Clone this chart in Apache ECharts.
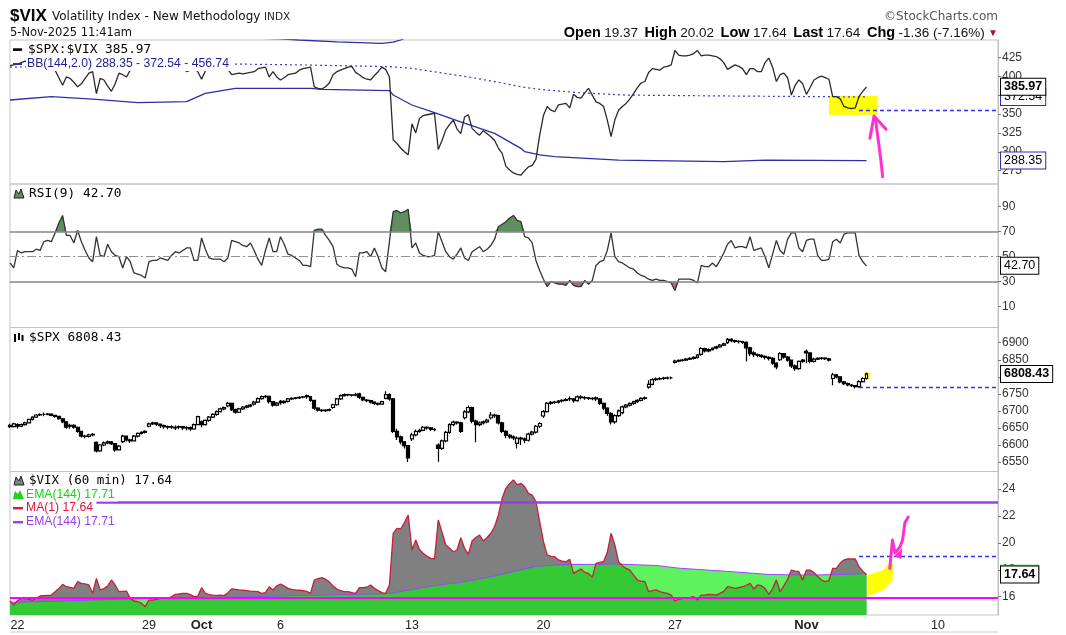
<!DOCTYPE html>
<html><head><meta charset="utf-8">
<script src="https://cdn.jsdelivr.net/npm/echarts@6/dist/echarts.min.js"></script>
<style>html,body{margin:0;padding:0;background:#fff}#c{width:1066px;height:635px}</style>
</head><body><div id="c"></div>
<script>
// ---------------- DATA ----------------
const days = ['9/19','9/22','9/23','9/24','9/25','9/26','9/29','9/30','10/1','10/2','10/3','10/6','10/7','10/8','10/9','10/10',
  '10/13','10/14','10/15','10/16','10/17','10/20','10/21','10/22','10/23','10/24','10/27','10/28','10/29','10/30','10/31',
  '11/3','11/4','11/5','11/6','11/7','11/10','11/11','11/12'];
const hours = ['09:30','10:30','11:30','12:30','13:30','14:30','15:30'];
const weekLabels = {'9/22':'22','9/29':'29','10/1':'Oct','10/6':'6','10/13':'13','10/20':'20','10/27':'27','11/3':'Nov','11/10':'10'};

// $SPX:$VIX ratio, one value per 60-min bar (first two = 9/19 afternoon)
const ratio = [414,415,
 416,418,420,419,421,420,418, 416,414,412,408,398,388,399, 397,392,386,390,397,404,406, 377,397,395,387,380,390,404,
 402,399,408,415,418,420,422, 419,416,418,420,417,414,412, 408,411,413,406,408,412,406, 396,407,412,414,415,413,416,
 409,402,403,404,403,404,405, 406,410,411,412,399,406,399, 395,398,402,403,404,408,410, 411,412,386,384,383,386,391,
 402,406,408,410,412,413,405, 402,398,396,395,401,406,412, 409,399,316,311,305,300,296, 337,325,344,348,349,350,351,
 303,315,329,336,342,330,324, 346,349,331,326,322,328,324, 320,315,305,298,281,276,272, 270,269,275,280,282,290,322,
 348,360,355,353,362,363,364, 358,376,372,371,378,384,375, 366,364,360,342,320,342,355, 360,364,370,377,385,391,393,
 405,410,409,408,412,413,415, 434,428,427,427,428,430,434, 427,428,428,427,426,423,418, 409,412,415,413,410,402,410,
 410,406,406,418,424,412,393, 402,404,398,375,388,395,390, 376,385,395,398,400,398,396, 373,373,370,360,358,357,358,
 373,380,385.97];
// Bollinger Bands (144,2.0) on the ratio: [bar index, value]
const bbUpper = [[0,459],[22,460],[45,458],[60,451],[72,449.5],[77,447.9],[87,445.5],[99,443.5],[102,445],[104,447.9],[107,455],
  [112,466],[120,472],[136,469],[141,474],[145,470.5],[162,461],[190,460],[228,456.74]];
const bbMid = [[0,412],[22,413.5],[42,415],[58,416.2],[77,415],[101,412.6],[106,411],[112,406.5],[122,399],[130,392],[136,386],
  [141,382.5],[152,378],[164,375],[192,373.8],[228,372.54]];
const bbLower = [[0,368.5],[11,372.9],[23,369.4],[34,365],[47,366.3],[52,377.3],[60,384],[80,384],[83,382.6],[101,381],[102,375.1],
  [107,361.9],[113,351.8],[119,341.2],[129,324.4],[136,304.6],[137,300.2],[141,295.8],[145,293.5],[162,289.1],[190,287],[201,289.1],[228,288.35]];

// RSI(9) of $VIX
const rsi = [45,41,
 55,53,54,54,54,56,55, 62,63,62,69,77,83,67, 67,61,71,62,55,49,46, 66,51,50,60,54,51,50, 41,50,46,37,36,35,33,
 46,47,47,49,48,47,51, 54,53,55,57,57,47,47, 65,56,49,48,48,48,46, 49,63,62,61,59,58,61, 55,48,43,55,65,54,54,
 66,60,52,51,49,47,43, 43,42,71,72,72,67,63, 58,44,42,41,41,40,34, 53,53,54,50,57,50,41, 38,62,86,87,85,86,88,
 57,61,53,51,50,50,51, 70,62,54,50,48,52,57, 49,47,54,56,58,54,56, 59,64,74,76,78,81,83, 79,78,66,65,61,47,39,
 32,26,30,29,28,28,27, 31,27,26,26,31,28,31, 43,46,47,55,69,50,46, 45,43,41,40,37,35,34, 32,31,32,31,31,30,29,
 23,32,32,32,32,31,29, 43,42,42,45,42,47,53, 60,63,57,58,58,57,66, 55,56,57,50,41,52,63, 55,52,64,69,69,57,54,
 63,64,64,51,47,47,48, 62,64,61,68,69,69,69, 51,46,42.7];

// $SPX 60-min candles: [open, close, low, high]
const spx = [[6658,6654,6650,6662],[6654,6662,6651,6665],
 [6660,6655,6648,6664],[6655,6660,6652,6663],[6660,6665,6657,6668],[6665,6675,6663,6677],[6675,6682,6672,6684],[6682,6688,6680,6690],[6688,6689,6685,6693],
 [6690,6690,6684,6695],[6690,6691,6687,6694],[6691,6687,6684,6693],[6687,6684,6680,6689],[6684,6677,6674,6686],[6677,6668,6664,6679],[6668,6652,6648,6670],
 [6655,6658,6648,6662],[6658,6652,6648,6661],[6652,6640,6636,6654],[6640,6626,6622,6642],[6626,6625,6620,6630],[6625,6630,6622,6633],[6630,6631,6626,6635],
 [6608,6583,6578,6610],[6583,6600,6580,6603],[6600,6606,6596,6610],[6606,6609,6602,6613],[6609,6604,6600,6612],[6604,6586,6580,6606],[6586,6597,6584,6600],
 [6610,6626,6606,6630],[6626,6615,6610,6628],[6615,6612,6606,6618],[6612,6626,6610,6629],[6626,6634,6622,6637],[6634,6637,6631,6640],[6637,6640,6634,6643],
 [6655,6662,6652,6666],[6662,6665,6659,6668],[6665,6661,6656,6667],[6661,6657,6650,6663],[6657,6654,6648,6660],[6654,6652,6646,6657],[6652,6654,6648,6658],
 [6650,6652,6644,6657],[6652,6654,6646,6657],[6654,6650,6644,6656],[6650,6651,6643,6655],[6651,6647,6642,6654],[6647,6660,6645,6663],[6660,6683,6658,6686],
 [6668,6660,6652,6672],[6660,6672,6657,6675],[6672,6682,6668,6685],[6682,6690,6679,6693],[6690,6698,6686,6701],[6698,6706,6695,6709],[6706,6710,6702,6713],
 [6715,6722,6711,6727],[6722,6704,6700,6724],[6704,6696,6692,6707],[6696,6706,6694,6709],[6706,6711,6703,6714],[6711,6714,6708,6717],[6714,6717,6711,6720],
 [6720,6726,6716,6730],[6726,6736,6723,6739],[6736,6742,6733,6745],[6742,6743,6738,6747],[6743,6727,6722,6745],[6727,6717,6712,6729],[6717,6723,6714,6726],
 [6728,6724,6718,6732],[6724,6728,6721,6731],[6728,6735,6725,6738],[6735,6737,6732,6740],[6737,6738,6734,6741],[6738,6740,6735,6743],[6740,6741,6737,6744],
 [6745,6742,6736,6748],[6742,6731,6727,6744],[6731,6708,6703,6733],[6708,6702,6698,6711],[6702,6701,6697,6705],[6701,6702,6697,6705],[6702,6704,6699,6707],
 [6710,6718,6706,6721],[6718,6735,6715,6738],[6735,6745,6732,6748],[6745,6748,6742,6751],[6748,6747,6743,6750],[6747,6746,6742,6749],[6746,6748,6743,6753],
 [6750,6740,6735,6753],[6740,6732,6728,6742],[6732,6730,6726,6735],[6730,6726,6722,6733],[6726,6722,6717,6728],[6722,6720,6716,6724],[6720,6727,6718,6730],
 [6737,6748,6734,6758],[6748,6735,6730,6752],[6735,6640,6635,6738],[6640,6624,6615,6648],[6624,6609,6602,6628],[6609,6598,6590,6612],[6598,6562,6550,6600],
 [6618,6630,6612,6636],[6630,6640,6626,6645],[6640,6643,6636,6648],[6643,6652,6640,6656],[6652,6650,6645,6655],[6650,6646,6641,6653],[6646,6645,6640,6649],
 [6600,6590,6551,6605],[6590,6612,6586,6616],[6612,6637,6608,6641],[6637,6660,6633,6664],[6660,6667,6655,6672],[6667,6665,6660,6670],[6665,6640,6635,6668],
 [6680,6697,6675,6702],[6697,6710,6693,6716],[6710,6670,6664,6712],[6670,6660,6608,6674],[6660,6665,6655,6669],[6665,6668,6660,6672],[6668,6673,6664,6677],
 [6680,6688,6675,6697],[6688,6686,6680,6692],[6686,6665,6660,6689],[6665,6640,6635,6668],[6640,6628,6620,6643],[6628,6624,6618,6632],[6624,6621,6615,6628],
 [6605,6620,6590,6625],[6620,6618,6600,6624],[6618,6614,6605,6622],[6614,6632,6610,6636],[6632,6638,6628,6642],[6638,6655,6634,6659],[6655,6663,6650,6667],
 [6685,6698,6680,6703],[6698,6722,6695,6726],[6722,6725,6718,6729],[6725,6726,6721,6730],[6726,6729,6722,6732],[6729,6731,6725,6734],[6731,6733,6728,6737],
 [6736,6735,6728,6742],[6735,6730,6724,6738],[6730,6741,6727,6745],[6741,6739,6734,6746],[6739,6738,6733,6743],[6738,6737,6732,6741],[6737,6736,6731,6740],
 [6738,6735,6728,6742],[6735,6722,6717,6738],[6722,6708,6702,6725],[6708,6693,6686,6711],[6693,6668,6660,6696],[6668,6686,6662,6690],[6686,6700,6682,6704],
 [6695,6712,6690,6716],[6712,6717,6708,6720],[6717,6722,6713,6725],[6722,6727,6718,6730],[6727,6731,6723,6734],[6731,6737,6728,6740],[6737,6738,6733,6742],
 [6770,6778,6765,6790],[6778,6792,6775,6796],[6792,6794,6788,6798],[6794,6795,6790,6799],[6795,6796,6791,6800],[6796,6797,6792,6801],[6797,6797,6793,6801],
 [6842,6846,6839,6850],[6846,6848,6843,6851],[6848,6849,6845,6853],[6849,6852,6846,6855],[6852,6854,6849,6857],[6854,6857,6851,6860],[6857,6864,6854,6867],
 [6866,6883,6862,6887],[6883,6876,6871,6885],[6876,6880,6872,6883],[6880,6884,6877,6887],[6884,6888,6881,6891],[6888,6893,6885,6896],[6893,6897,6890,6900],
 [6900,6910,6896,6914],[6910,6906,6901,6913],[6906,6904,6899,6909],[6904,6903,6898,6907],[6903,6901,6896,6906],[6901,6885,6845,6904],[6885,6868,6860,6888],
 [6870,6865,6858,6875],[6865,6863,6857,6868],[6863,6860,6855,6866],[6860,6857,6851,6863],[6857,6854,6848,6860],[6854,6840,6835,6857],[6840,6829,6822,6843],
 [6850,6868,6846,6872],[6868,6858,6853,6870],[6858,6849,6844,6861],[6849,6832,6826,6851],[6832,6824,6818,6836],[6824,6845,6821,6848],[6845,6849,6841,6852],
 [6875,6870,6840,6880],[6870,6845,6840,6872],[6845,6852,6842,6856],[6852,6854,6849,6857],[6854,6855,6850,6858],[6855,6853,6849,6857],[6853,6849,6845,6855],
 [6795,6806,6775,6812],[6806,6800,6795,6808],[6800,6785,6781,6802],[6785,6780,6776,6788],[6780,6776,6772,6783],[6776,6774,6770,6779],[6774,6771,6766,6776],
 [6771,6786,6768,6790],[6786,6795,6783,6799],[6795,6808.43,6792,6812]];

// $VIX 60-min closes
const vix = [15.7,15.4,
 15.7,15.88,15.85,15.8,15.75,15.9,16.05, 16.08,16.1,16.12,16.37,16.6,16.92,16.74, 16.7,16.62,17.12,16.99,16.95,16.87,16.25,
 17.36,16.5,16.6,16.8,17.24,16.87,16.37, 16.4,16.42,15.88,15.68,15.63,15.5,15.26, 15.75,15.75,15.8,15.88,15.9,15.88,16.0,
 16.17,16.2,16.25,16.25,16.15,16.0,16.05, 16.67,16.25,16.15,16.12,16.1,16.12,16.08, 16.3,16.57,16.55,16.5,16.48,16.45,16.42,
 16.4,16.37,16.25,16.3,16.74,16.5,16.8, 16.94,16.8,16.62,16.55,16.5,16.48,16.45, 16.4,16.25,17.24,17.35,17.41,17.3,17.1,
 16.8,16.57,16.45,16.37,16.37,16.3,16.25, 16.67,16.67,16.7,16.87,16.62,16.45,16.3, 16.25,16.87,20.71,21.08,21.03,21.5,22.07,
 19.47,20.21,19.5,19.22,19.0,18.85,18.8, 21.7,20.8,19.84,19.6,19.34,19.47,20.38, 19.6,19.15,20.14,20.4,20.58,20.14,20.4,
 20.71,21.2,22.07,23.31,24.05,24.4,24.67, 24.3,24.42,24.17,23.68,23.55,23.06,21.57, 20.09,19.1,19.0,18.97,18.73,18.65,18.6,
 18.77,17.73,17.9,18.06,17.8,17.73,17.44, 18.48,18.55,18.6,19.3,20.71,19.84,18.6, 18.3,18.1,17.98,17.6,17.24,17.15,17.12,
 16.37,16.45,16.5,16.37,16.3,16.25,16.12, 15.68,15.8,15.88,15.93,15.95,16.0,15.75, 16.12,16.12,16.17,16.15,16.12,16.25,16.4,
 16.74,16.7,16.62,16.68,16.74,16.85,16.99, 16.57,16.87,16.82,16.6,16.17,16.6,17.24, 16.37,16.8,17.3,17.98,17.9,17.86,17.24,
 17.98,17.98,17.8,17.5,17.24,17.12,17.2, 18.11,18.11,18.5,18.73,18.8,18.8,18.8, 18.23,17.9,17.64];
// EMA(144) of $VIX: [bar index, value]
const ema = [[0,15.58],[12,15.66],[22,15.76],[32,15.83],[47,15.9],[62,15.98],[79,16.1],[101,16.22],[102,16.28],[106,16.48],
  [112,16.78],[122,17.15],[130,17.6],[136,18.0],[140,18.25],[147,18.38],[162,18.42],[172,18.32],[178,18.12],[192,17.86],
  [202,17.65],[212,17.6],[222,17.66],[228,17.71]];

// hand-drawn annotations: [bar index, value]
const annoTopYellow = [[218,349],[231,349],[231,374],[218,374]];
const annoTopArrowHead = [[228.9,317.8],[230,347.4],[233.2,329.7]];
const annoTopArrowShaft = [[230.4,342],[231,320],[231.8,290],[232.3,267]];
const annoVixYellow = [[228.2,17.61],[232.5,17.98],[233.8,18.43],[235,18.43],[235,17.24],[232.5,16.5],[228.9,16.12],[228.2,16.12]];
const annoVixPink = [[234.2,18.11],[234.9,20.21],[235.6,19.25],[236.9,19.69],[237.6,20.21],[238.2,21.47],[239.1,21.92]];
const annoVixPinkFill = [[235.4,19.0],[237.5,19.6],[237.3,18.8]];
const annoSpxYellow = [[227.4,6793],[229,6793],[229,6813],[227.4,6813]];

// tick labels
const ratioTicks = [275,300,325,350,375,400,425];
const rsiTicks = [10,30,50,70,90];
const spxTicks = [6550,6600,6650,6700,6750,6800,6850,6900];
const vixTicks = [16,18,20,22,24];

// ---------------- BUILD ----------------
const cats = [];
days.forEach((d, i) => {
  let hs = hours;
  if (i === 0) hs = hours.slice(5);
  if (i === days.length - 1) hs = hours.slice(0, 3);
  hs.forEach(h => cats.push(d + ' ' + h));
});
const lastIdx = cats.length - 1;

const FONT = 'Liberation Sans';

function xAx(gi, labels) {
  return {
    type: 'category', gridIndex: gi, data: cats, boundaryGap: false,
    axisLine: {show: false}, axisTick: {show: false}, splitLine: {show: false},
    axisLabel: labels ? {
      show: true, margin: 4, color: '#222', fontFamily: FONT, fontSize: 12.5,
      interval: (i, v) => v.endsWith(' 09:30') && weekLabels[v.split(' ')[0]] !== undefined,
      formatter: v => { const t = weekLabels[v.split(' ')[0]]; return (t === 'Oct' || t === 'Nov') ? '{b|' + t + '}' : t; },
      rich: {b: {fontWeight: 'bold', fontFamily: FONT, fontSize: 13, color: '#222'}}
    } : {show: false}
  };
}
function yAx(gi, min, max, ticks) {
  return {
    type: 'value', gridIndex: gi, position: 'right', min: min, max: max, scale: true,
    splitLine: {show: false},
    axisLine: {show: true, lineStyle: {color: '#bdbdbd'}},
    axisTick: {show: true, length: 3, lineStyle: {color: '#777'}, customValues: ticks},
    axisLabel: {show: true, customValues: ticks, margin: 4, color: '#333', fontFamily: FONT, fontSize: 12,
      formatter: v => String(v)}
  };
}
function tag(text, border, bold) {
  return {show: true, position: 'end', distance: 3, formatter: text, color: '#000', fontFamily: FONT,
    fontSize: 12.5, fontWeight: bold ? 'bold' : 'normal', backgroundColor: '#fff', borderColor: border,
    borderWidth: 1, padding: [2, 3, 1, 3]};
}
const hidden = {color: 'rgba(0,0,0,0)', width: 0.01, type: 'solid'};
function anno(xi, yi, shapes, z) {
  return {
    type: 'custom', xAxisIndex: xi, yAxisIndex: yi, data: [0], z: z, silent: true, clip: false,
    renderItem: (params, api) => {
      const pt = (j, v) => {
        const j0 = Math.floor(j), f = j - j0;
        const a = api.coord([j0, v]), b = api.coord([j0 + 1, v]);
        return [a[0] + (b[0] - a[0]) * f, a[1]];
      };
      return {type: 'group', children: shapes.map(s => s.fill ?
        {type: 'polygon', shape: {points: s.pts.map(p => pt(p[0], p[1]))}, style: {fill: s.fill}} :
        {type: 'polyline', shape: {points: s.pts.map(p => pt(p[0], p[1]))},
          style: {stroke: s.stroke, lineWidth: s.w, fill: null, lineCap: 'round', lineJoin: 'round'}})};
    }
  };
}
// helper carrying only marker lines/tags on a given panel
function markers(xi, yi, z, lineStyle, data) {
  return {type: 'line', xAxisIndex: xi, yAxisIndex: yi, data: [], symbol: 'none', silent: true, z: z,
    markLine: {silent: true, symbol: 'none', animation: false, lineStyle: lineStyle, data: data}};
}

const rsiHiBase = rsi.map(() => 70);
const rsiHi = rsi.map(v => Math.max(v - 70, 0));
const rsiLoBase = rsi.map(v => Math.min(v, 30));
const rsiLo = rsi.map(v => 30 - Math.min(v, 30));

const grids = [
  {left: 10, top: 40, width: 988, height: 144},
  {left: 10, top: 184, width: 988, height: 143.5},
  {left: 10, top: 327.5, width: 988, height: 144},
  {left: 10, top: 471.5, width: 988, height: 143.5}
].map(g => Object.assign(g, {show: true, borderColor: '#c4c4c4', borderWidth: 1, containLabel: false}));

const txt = (x, y, text, font, fill, extra) => Object.assign({type: 'text', x: x, y: y, z: 100, silent: true,
  style: Object.assign({text: text, font: font, fill: fill, verticalAlign: 'middle', align: 'left'}, extra || {})});
const legendTxt = (x, y, text, font, fill) => txt(x, y, text, font, fill, {backgroundColor: '#fff', padding: [1, 3, 1, 1]});
const rect = (x, y, w, h, fill) => ({type: 'rect', z: 101, silent: true, shape: {x: x, y: y, width: w, height: h}, style: {fill: fill}});
const poly = (pts, fill, stroke) => ({type: 'polygon', z: 101, silent: true, shape: {points: pts}, style: {fill: fill, stroke: stroke || null, lineWidth: 1}});

const graphics = [
  txt(10, 16, '$VIX', 'bold 17px "Liberation Sans"', '#000'),
  txt(52, 17, 'Volatility Index - New Methodology', '12px "DejaVu Sans"', '#111'),
  txt(264, 17.5, 'INDX', '10.5px "DejaVu Sans"', '#222'),
  txt(10, 33, '5-Nov-2025 11:41am', '11.5px "DejaVu Sans"', '#111'),
  txt(998, 17, '\u00A9StockCharts.com', '12px "DejaVu Sans"', '#555', {align: 'right'}),
  {type: 'text', x: 998, y: 33, z: 100, silent: true, style: {
    text: '{l|Open} {v|19.37}  {l|High} {v|20.02}  {l|Low} {v|17.64}  {l|Last} {v|17.64}  {l|Chg} {v|-1.36 (-7.16%)} {t|\u25BC}',
    align: 'right', verticalAlign: 'middle',
    rich: {l: {font: 'bold 14.5px "Liberation Sans"', fill: '#000'}, v: {font: '13.5px "Liberation Sans"', fill: '#111'},
      t: {font: '10px "Liberation Sans"', fill: '#b01030'}}}},
  // panel 1 legend
  legendTxt(27, 49.5, '$SPX:$VIX 385.97', '12.8px "DejaVu Sans Mono"', '#000'),
  rect(13, 48.3, 9, 2.6, '#000'),
  legendTxt(26, 64, 'BB(144,2.0) 288.35 - 372.54 - 456.74', '12.2px "Liberation Sans"', '#1e1e96'),
  rect(13, 63, 9, 2, '#2e2ea6'),
  // panel 2 legend
  legendTxt(28, 193.5, 'RSI(9) 42.70', '12.8px "DejaVu Sans Mono"', '#000'),
  poly([[14, 198], [16, 190], [19, 194], [21, 189], [24, 198]], '#5e8c5e', '#222'),
  // panel 3 legend
  legendTxt(28, 338, '$SPX 6808.43', '12.8px "DejaVu Sans Mono"', '#000'),
  rect(14, 334, 2, 8, '#000'), rect(18, 333, 2, 7, '#000'), rect(21.5, 335, 2, 6, '#000'),
  // panel 4 legends
  legendTxt(28, 480.5, '$VIX (60 min) 17.64', '12.5px "DejaVu Sans Mono"', '#000'),
  poly([[14, 485], [16, 477], [19, 481], [21, 476], [24, 485]], '#808080', '#222'),
  legendTxt(25, 494.5, 'EMA(144) 17.71', '12.2px "Liberation Sans"', '#16d416'),
  poly([[13, 499], [15, 491], [18, 494], [20, 490], [24, 499]], '#1fd01f', null),
  legendTxt(25, 508, 'MA(1) 17.64', '12.2px "Liberation Sans"', '#e0143c'),
  rect(13, 507, 10, 2.4, '#e0143c'),
  legendTxt(25, 522, 'EMA(144) 17.71', '12.2px "Liberation Sans"', '#9a3ef0'),
  rect(13, 521, 10, 2.4, '#9a3ef0'),
  {type: 'line', z: 50, silent: true, shape: {x1: 10, y1: 632, x2: 998, y2: 632}, style: {stroke: '#cfcfcf', lineWidth: 1}}
];
if (ratio.length !== 229 || rsi.length !== 229 || spx.length !== 229 || vix.length !== 229) {
  graphics.push(txt(300, 300, 'LEN ' + ratio.length + ' ' + rsi.length + ' ' + spx.length + ' ' + vix.length, 'bold 20px sans-serif', 'red'));
}

const blueDash = {color: '#2f2fff', width: 1.4, type: [4, 3]};

const option = {
  animation: false,
  backgroundColor: '#fff',
  grid: grids,
  xAxis: [xAx(0, false), xAx(1, false), xAx(2, false), xAx(3, true)],
  yAxis: [yAx(0, 257.4, 447.9, ratioTicks), yAx(1, -6.64, 108.16, rsiTicks), yAx(2, 6522.3, 6944.6, spxTicks), yAx(3, 14.64, 25.3, vixTicks)],
  graphic: graphics,
  series: [
    // ---- panel 1 ----
    anno(0, 0, [{pts: annoTopYellow, fill: '#ffff00'}], 1),
    {type: 'line', xAxisIndex: 0, yAxisIndex: 0, data: bbUpper, symbol: 'none', silent: true, z: 2,
      lineStyle: {color: '#2e2ea6', width: 1.3}},
    {type: 'line', xAxisIndex: 0, yAxisIndex: 0, data: bbLower, symbol: 'none', silent: true, z: 2,
      lineStyle: {color: '#2e2ea6', width: 1.3}},
    {type: 'line', xAxisIndex: 0, yAxisIndex: 0, data: bbMid, symbol: 'none', silent: true, z: 2,
      lineStyle: {color: '#3c3cc8', width: 1.2, type: [2, 3]}},
    {type: 'line', xAxisIndex: 0, yAxisIndex: 0, data: ratio, symbol: 'none', silent: true, z: 3,
      lineStyle: {color: '#2a2a2a', width: 1.3}},
    markers(0, 0, 4, blueDash, [
      [{coord: [cats[226], 355.3], label: {show: false}}, {coord: [cats[lastIdx], 355.3]}]
    ]),
    markers(0, 0, 5, hidden, [
      {yAxis: 288.35, label: tag('288.35', '#2e2ea6', false)},
      {yAxis: 372.54, label: tag('372.54', '#2e2ea6', false)}
    ]),
    markers(0, 0, 6, hidden, [
      {yAxis: 385.97, label: tag('385.97', '#000', true)}
    ]),
    anno(0, 0, [{pts: annoTopArrowHead, stroke: '#ff2fd0', w: 3}, {pts: annoTopArrowShaft, stroke: '#ff2fd0', w: 3}], 10),
    // ---- panel 2: RSI ----
    {type: 'line', xAxisIndex: 1, yAxisIndex: 1, data: rsiHiBase, stack: 'hi', symbol: 'none', silent: true, z: 1, lineStyle: {width: 0}},
    {type: 'line', xAxisIndex: 1, yAxisIndex: 1, data: rsiHi, stack: 'hi', symbol: 'none', silent: true, z: 1, lineStyle: {width: 0},
      areaStyle: {color: '#5f8f5f', opacity: 1}},
    {type: 'line', xAxisIndex: 1, yAxisIndex: 1, data: rsiLoBase, stack: 'lo', symbol: 'none', silent: true, z: 1, lineStyle: {width: 0}},
    {type: 'line', xAxisIndex: 1, yAxisIndex: 1, data: rsiLo, stack: 'lo', symbol: 'none', silent: true, z: 1, lineStyle: {width: 0},
      areaStyle: {color: '#bd6474', opacity: 1}},
    markers(1, 1, 2, {color: '#858585', width: 1.6, type: 'solid'}, [
      {yAxis: 70, label: {show: false}}, {yAxis: 30, label: {show: false}}
    ]),
    markers(1, 1, 2, {color: '#8f8f8f', width: 1.2, type: [9, 3, 2, 3]}, [
      {yAxis: 50, label: {show: false}}
    ]),
    {type: 'line', xAxisIndex: 1, yAxisIndex: 1, data: rsi, symbol: 'none', silent: true, z: 3,
      lineStyle: {color: '#333', width: 1.3}},
    markers(1, 1, 5, hidden, [{yAxis: 42.7, label: tag('42.70', '#000', false)}]),
    // ---- panel 3: SPX ----
    anno(2, 2, [{pts: annoSpxYellow, fill: '#ffff33'}], 1),
    {type: 'candlestick', xAxisIndex: 2, yAxisIndex: 2, data: spx, barWidth: 3.4, silent: true, z: 3,
      itemStyle: {color: '#ffffff', color0: '#000000', borderColor: '#000000', borderColor0: '#000000', borderWidth: 1.2}},
    markers(2, 2, 4, blueDash, [
      [{coord: [cats[226], 6768.6], label: {show: false}}, {coord: [cats[lastIdx], 6768.6]}]
    ]),
    markers(2, 2, 5, hidden, [{yAxis: 6808.43, label: tag('6808.43', '#000', true)}]),
    // ---- panel 4: VIX ----
    {type: 'line', xAxisIndex: 3, yAxisIndex: 3, data: vix, symbol: 'none', silent: true, z: 1, lineStyle: {width: 0},
      areaStyle: {color: '#808080', opacity: 1, origin: 'start'}},
    {type: 'line', xAxisIndex: 3, yAxisIndex: 3, data: ema, symbol: 'none', silent: true, z: 2,
      lineStyle: {color: '#9d44ff', width: 1},
      areaStyle: {color: 'rgba(18,236,18,0.68)', opacity: 1, origin: 'start'}},
    {type: 'line', xAxisIndex: 3, yAxisIndex: 3, data: vix, symbol: 'none', silent: true, z: 3,
      lineStyle: {color: '#c81e3c', width: 1.3}},
    markers(3, 3, 4, {color: '#ff00ff', width: 2, type: 'solid'}, [{yAxis: 15.95, label: {show: false}}]),
    markers(3, 3, 4, {color: '#9a3ee6', width: 2.6, type: 'solid'}, [
      [{coord: [cats[23], 23.0], label: {show: false}}, {coord: [cats[lastIdx], 23.0]}]
    ]),
    markers(3, 3, 4, blueDash, [
      [{coord: [cats[226], 19.02], label: {show: false}}, {coord: [cats[lastIdx], 19.02]}]
    ]),
    markers(3, 3, 5, hidden, [{yAxis: 17.71, label: tag('17.71', '#22cc22', true)}]),
    markers(3, 3, 6, hidden, [{yAxis: 17.64, label: tag('17.64', '#000', true)}]),
    anno(3, 3, [{pts: annoVixYellow, fill: '#ffff00'}, {pts: annoVixPinkFill, fill: '#ff2fd0'},
      {pts: annoVixPink, stroke: '#ff2fd0', w: 3}], 10)
  ]
};
const chart = echarts.init(document.getElementById('c'));
chart.setOption(option);
</script>
</body></html>
